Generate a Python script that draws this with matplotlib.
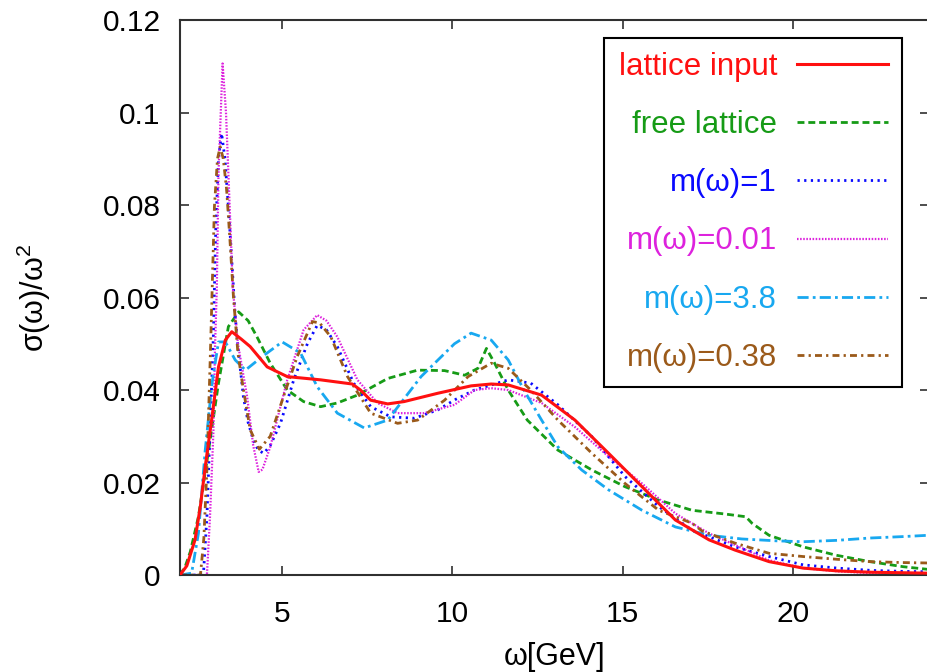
import numpy as np
import matplotlib
matplotlib.use('Agg')
import matplotlib.pyplot as plt
from matplotlib.ticker import FormatStrFormatter

plt.rcParams['font.family'] = ['Liberation Sans', 'DejaVu Sans']
plt.rcParams['mathtext.fontset'] = 'custom'
plt.rcParams['mathtext.rm'] = 'Liberation Sans'
plt.rcParams['mathtext.default'] = 'regular'

# lattice input
x_lat = [2.0, 2.2, 2.44, 2.6, 2.74, 2.94, 3.13, 3.33, 3.52, 3.8, 4.06, 4.56, 5.15, 6.13, 7.06,
         7.3, 7.6, 8.1, 8.58, 9.57, 10.55, 11.14, 11.64, 12.62, 13.6, 14.59, 15.57, 16.55, 17.54,
         18.3, 19.3, 20.3, 21.3, 22.3, 23.2, 24.0]
y_lat = [0.0, 0.002, 0.0076, 0.015, 0.0234, 0.0342, 0.045, 0.0508, 0.0526, 0.051, 0.0494, 0.045,
         0.0429, 0.0422, 0.0413, 0.0400, 0.0378, 0.0370, 0.0375, 0.0393, 0.0409, 0.0413, 0.0411,
         0.0389, 0.0335, 0.0263, 0.0191, 0.0119, 0.0076, 0.0054, 0.0029, 0.0015, 0.0009, 0.0006,
         0.0005, 0.0004]

# free lattice
x_free = [2.0, 2.15, 2.3, 2.54, 2.84, 3.13, 3.42, 3.72, 4.0, 4.26, 4.65, 5.15, 5.63, 6.13, 6.62,
          7.21, 8.1, 8.98, 9.77, 10.36, 10.75, 11.0, 11.24, 11.64, 12.2, 13.1, 14.1, 15.07, 16.06,
          17.04, 18.0, 18.62, 18.8, 19.3, 20.3, 21.26, 22.26, 23.24, 24.0]
y_free = [0.0, 0.0018, 0.005, 0.0126, 0.027, 0.0415, 0.0537, 0.0569, 0.0550, 0.0515, 0.0458,
          0.040, 0.0375, 0.0364, 0.0372, 0.0389, 0.0425, 0.0443, 0.0442, 0.0432, 0.0447, 0.049,
          0.0458, 0.040, 0.0335, 0.027, 0.0227, 0.0191, 0.0162, 0.014, 0.0132, 0.0126, 0.0112,
          0.0086, 0.0061, 0.0043, 0.0029, 0.0018, 0.0012]

# m(w)=1
x_m1 = [2.0, 2.5, 2.69, 2.79, 2.88, 2.98, 3.05, 3.13, 3.22, 3.32, 3.42, 3.52, 3.62, 3.72, 3.86,
        4.0, 4.16, 4.3, 4.46, 4.65, 4.95, 5.34, 5.74, 6.03, 6.3, 6.62, 7.1, 7.6, 8.19, 8.88, 9.57,
        10.1, 10.65, 11.64, 12.3, 13.1, 14.1, 15.07, 16.06, 17.04, 18.3, 19.3, 20.3, 21.3, 22.3,
        23.2, 24.0]
y_m1 = [0.0, 0.0, 0.0005, 0.0126, 0.0307, 0.052, 0.075, 0.09, 0.0955, 0.090, 0.0796, 0.068,
        0.056, 0.048, 0.0386, 0.033, 0.029, 0.027, 0.0263, 0.028, 0.0328, 0.0422, 0.050, 0.054,
        0.053, 0.0494, 0.0415, 0.0364, 0.0342, 0.0339, 0.0357, 0.038, 0.040, 0.0422, 0.0415,
        0.0368, 0.0299, 0.0213, 0.0148, 0.0097, 0.0061, 0.004, 0.0022, 0.0015, 0.001, 0.0008,
        0.0007]

# m(w)=0.01
x_m001 = [2.0, 2.79, 2.88, 2.98, 3.03, 3.08, 3.13, 3.25, 3.35, 3.42, 3.55, 3.7, 3.97, 4.15, 4.31,
          4.42, 4.65, 5.15, 5.63, 6.03, 6.3, 6.62, 7.21, 7.8, 8.39, 9.17, 10.06, 10.65, 11.14,
          11.64, 12.62, 13.6, 14.59, 15.57, 16.55, 17.54, 18.3, 19.3, 20.3, 21.3, 22.3, 24.0]
y_m001 = [0.0, 0.0, 0.0126, 0.031, 0.05, 0.062, 0.0869, 0.1106, 0.100, 0.0869, 0.062, 0.050,
          0.0386, 0.028, 0.0223, 0.0228, 0.0277, 0.0422, 0.053, 0.0562, 0.055, 0.0515, 0.0422,
          0.0372, 0.035, 0.035, 0.0368, 0.040, 0.0404, 0.040, 0.0372, 0.032, 0.0256, 0.0198,
          0.0133, 0.009, 0.0065, 0.0032, 0.0015, 0.0008, 0.0004, 0.0001]

# m(w)=3.8
x_m38 = [2.0, 2.34, 2.54, 2.74, 2.94, 3.13, 3.33, 3.62, 3.92, 4.41, 5.0, 5.54, 6.03, 6.62, 7.41,
         8.1, 9.08, 10.06, 10.55, 11.14, 11.64, 12.1, 12.62, 13.1, 13.8, 14.59, 15.57, 16.55,
         17.54, 18.5, 19.5, 20.3, 21.3, 22.26, 23.2, 24.0]
y_m38 = [0.0, 0.0004, 0.009, 0.027, 0.0415, 0.0504, 0.0504, 0.0465, 0.0443, 0.0472, 0.0504,
         0.048, 0.0407, 0.035, 0.0318, 0.0335, 0.0429, 0.050, 0.0523, 0.0508, 0.0465, 0.040,
         0.0335, 0.0277, 0.0227, 0.0184, 0.014, 0.0104, 0.0086, 0.0078, 0.0074, 0.0072, 0.0075,
         0.008, 0.0083, 0.0086]

# m(w)=0.38
x_m038 = [2.0, 2.6, 2.7, 2.79, 2.9, 3.01, 3.1, 3.18, 3.27, 3.37, 3.47, 3.57, 3.7, 3.82, 4.06,
          4.33, 4.65, 5.04, 5.44, 5.89, 6.1, 6.43, 6.92, 7.6, 8.39, 8.98, 9.77, 10.46, 11.14,
          11.64, 12.3, 13.1, 14.1, 15.07, 16.06, 17.04, 17.34, 18.3, 19.3, 20.3, 21.3, 22.26,
          23.2, 24.0]
y_m038 = [0.0, 0.0, 0.008, 0.023, 0.05, 0.0796, 0.09, 0.0926, 0.09, 0.0832, 0.072, 0.06, 0.048,
          0.042, 0.0314, 0.0272, 0.030, 0.0386, 0.0472, 0.0548, 0.0545, 0.0515, 0.0429, 0.035,
          0.0328, 0.0335, 0.0378, 0.0429, 0.0458, 0.0447, 0.040, 0.0335, 0.0263, 0.0198, 0.014,
          0.0112, 0.0095, 0.0069, 0.0047, 0.004, 0.0034, 0.0029, 0.0027, 0.0026]

fig = plt.figure(figsize=(9.28, 6.72), dpi=100)
ax = fig.add_axes([0.194, 0.1443, 0.8071, 0.8259])

ax.plot(x_lat, y_lat, color='#ff1010', lw=2.2, label='lattice input', zorder=6)
ax.plot(x_free, y_free, color='#169b16', lw=2.0, dashes=(2.5, 1.4), label='free lattice')
ax.plot(x_m1, y_m1, color='#0a0aff', lw=2.0, dashes=(0.8, 1.6), label=r'm(ω)=1')
ax.plot(x_m001, y_m001, color='#dd22dd', lw=1.6, dashes=(0.7, 0.7), label=r'm(ω)=0.01')
ax.plot(x_m38, y_m38, color='#18a8f0', lw=2.0, dashes=(4, 1.5, 1, 1.5), label=r'm(ω)=3.8')
ax.plot(x_m038, y_m038, color='#9b5a1a', lw=2.0, dashes=(2.5, 1.5, 0.8, 1.5), label=r'm(ω)=0.38')

ax.set_xlim(2, 24)
ax.set_ylim(0, 0.12)
ax.set_xticks([5, 10, 15, 20])
ax.set_yticks(np.arange(0, 0.121, 0.02))
ax.yaxis.set_major_formatter(FormatStrFormatter('%g'))
ax.tick_params(direction='in', length=6.5, width=1.2, color='#303030', labelsize=21.5,
               top=True, right=True)
ax.tick_params(axis='y', pad=14)
ax.tick_params(axis='x', pad=18)
for s in ax.spines.values():
    s.set_linewidth(1.5)
    s.set_color('#303030')

ax.set_xlabel('ω[GeV]', fontsize=22, labelpad=10)
ax.set_ylabel('σ(ω)/ω$^{2}$', fontsize=22)
ax.yaxis.set_label_coords(-0.17, 0.5)

leg = ax.legend(loc='upper right', bbox_to_anchor=(0.964, 0.9676), borderaxespad=0,
                markerfirst=False, labelcolor='linecolor', fontsize=22.5, fancybox=False,
                framealpha=1, edgecolor='black', handlelength=2.9, handletextpad=0.65,
                labelspacing=0.9, borderpad=0.45)
leg.get_frame().set_linewidth(1.5)

fig.savefig('out.png', dpi=100)
